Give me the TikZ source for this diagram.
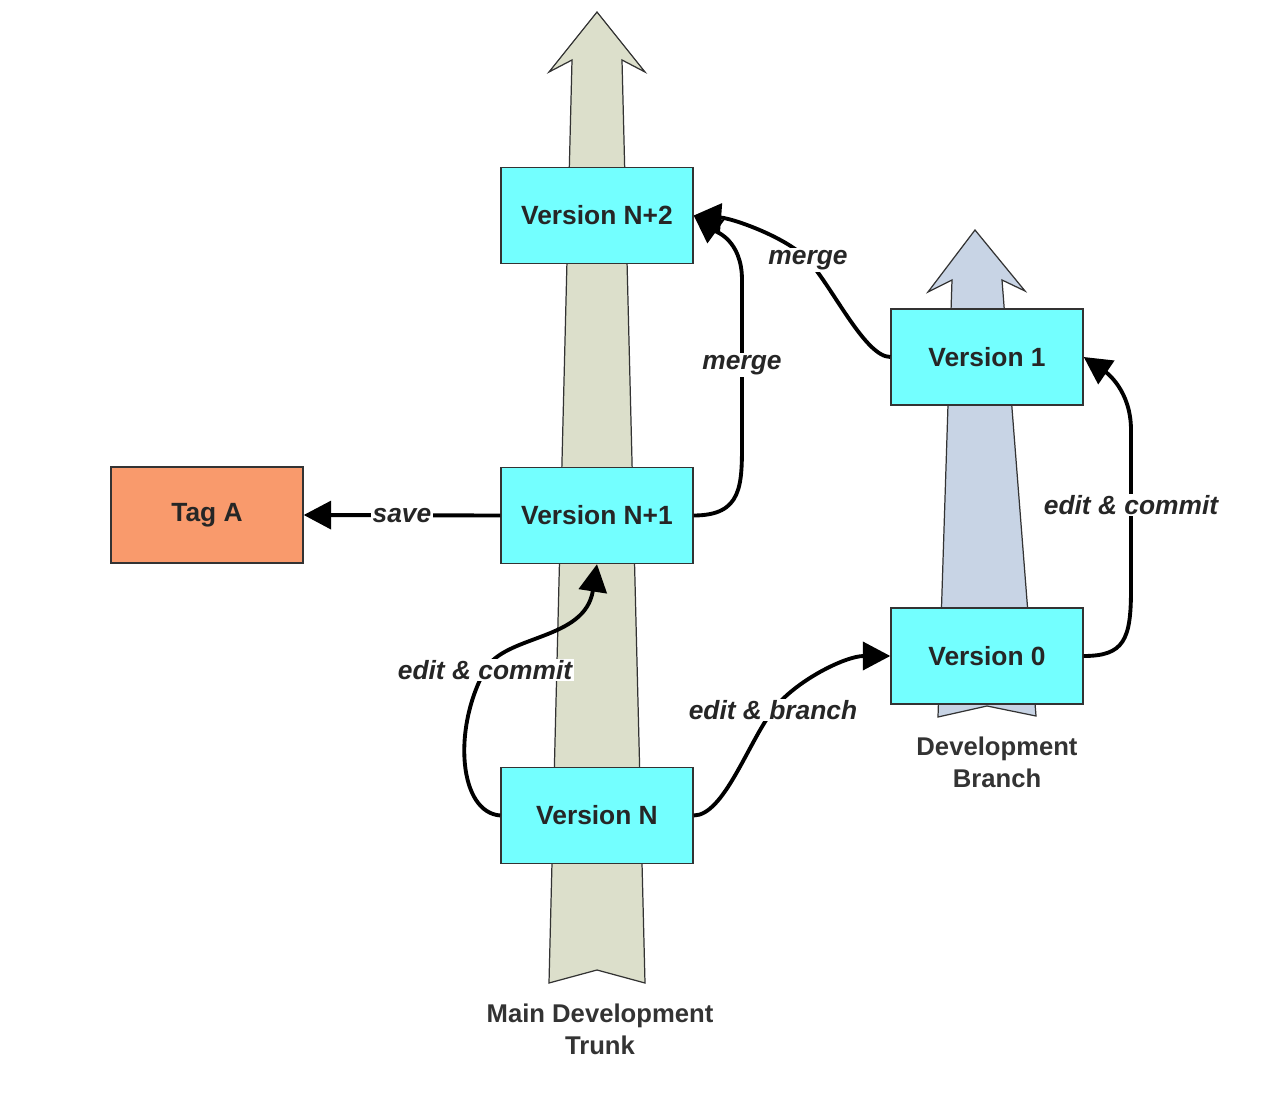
\documentclass[tikz,border=0pt]{standalone}
\usepackage{fontspec}
\setmainfont{Liberation Sans}
\usetikzlibrary{arrows.meta}

\definecolor{vcyan}{HTML}{73FFFF}
\definecolor{tagorange}{HTML}{F99A6C}
\definecolor{trunkgrey}{HTML}{DCDFCB}
\definecolor{branchblue}{HTML}{C8D4E5}
\definecolor{edgegrey}{HTML}{333333}

\begin{document}
\begin{tikzpicture}[x=0.02cm,y=-0.02cm,
  version/.style={draw=edgegrey,line width=0.8pt,fill=vcyan,minimum width=3.84cm,minimum height=1.92cm,
    font=\fontsize{15}{18}\selectfont\bfseries,text=black!85},
  tag/.style={version,fill=tagorange},
  conn/.style={line width=2.2pt,-{Triangle[length=0.55cm,width=0.56cm]}},
  lbl/.style={fill=white,inner sep=1pt,font=\fontsize{15}{18}\selectfont\bfseries\itshape,text=black!85},
  caption/.style={align=center,font=\fontsize{14.6}{18.2}\selectfont\bfseries,text=black!80},
  shaft/.style={draw=edgegrey,line width=0.7pt}]
\useasboundingbox (0,0) rectangle (1276,1098);

% trunk and branch
\draw[shaft,fill=trunkgrey] (597,12) -- (645,72) -- (622,60) -- (645,983) -- (597,970) -- (549,983) -- (572,60) -- (549,72) -- cycle;
\draw[shaft,fill=branchblue] (975,230) -- (1025,291) -- (1002,280) -- (1036,716) -- (987,706) -- (938,717) -- (952,280) -- (928,292) -- cycle;

\node[version] (N2) at (597,215.5) {Version N+2};
\node[version] (N1) at (597,515.5) {Version N+1};
\node[version] (N0) at (597,815.5) {Version N};
\node[tag] (T1) at (207,515) {Tag A};
\node[version] (B1) at (987,357) {Version 1};
\node[version] (B0) at (987,656) {Version 0};

\node[caption] (trunk) at (600,1029) {Main Development\\Trunk};
\node[caption] (branch) at (997,762) {Development\\Branch};

% connectors
\draw[conn] (N1.west) -- node[lbl,pos=0.5]{save} (T1.east);
\draw[conn] (N0.west) .. controls +(-41,-3) and +(-33,60) .. (485,670) node[lbl]{edit \& commit}
  .. controls +(20,-36) and +(-12,77) .. (N1.south);
\draw[conn] (N1.east) .. controls +(49,0) and +(0,45) .. (742,440) -- (742,365) node[lbl]{merge}
  -- (742,280) .. controls +(0,-40) and +(22,16) .. (N2.east);
\draw[conn] (B1.west) .. controls +(-25,0) and +(25,28) .. (808,260) node[lbl]{merge}
  .. controls +(-20,-22) and +(40,3) .. (N2.east);
\draw[conn] (N0.east) .. controls +(30,0) and +(-25,33) .. (773,710) node[lbl]{edit \& branch}
  .. controls +(22,-29) and +(-45,0) .. (B0.west);
\draw[conn] (B0.east) .. controls +(40,0) and +(0,50) .. (1131,590) -- (1131,505) node[lbl]{edit \& commit}
  -- (1131,430) .. controls +(0,-40) and +(22,15) .. (B1.east);
\end{tikzpicture}
\end{document}
